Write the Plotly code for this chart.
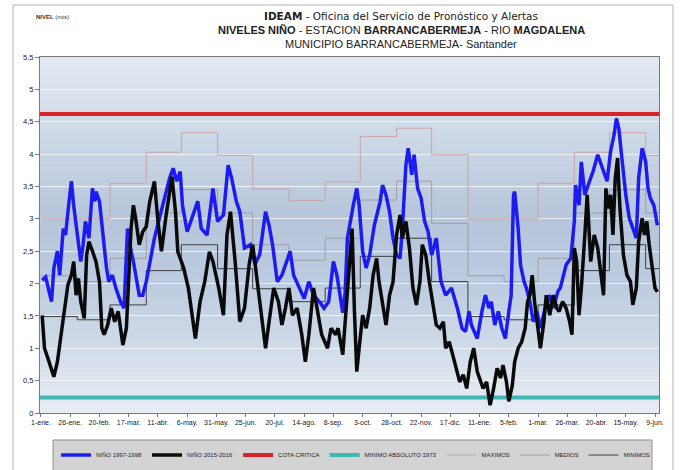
import plotly.graph_objects as go
import pandas as pd

# --- Niveles diarios (m) por día contado desde el 1 de enero del primer año ---
dias_1997 = [1, 4, 9, 11, 14, 16, 19, 21, 24, 26,
             28, 31, 34, 36, 38, 41, 44, 46, 47, 50,
             53, 56, 58, 61, 64, 68, 71, 74, 77, 79,
             84, 87, 90, 93, 97, 102, 106, 110, 113, 116,
             119, 121, 125, 127, 130, 134, 137, 142, 147, 151,
             156, 160, 163, 167, 170, 174, 179, 183, 187, 192,
             195, 198, 202, 206, 211, 213, 216, 221, 225, 229,
             233, 238, 242, 246, 250, 253, 258, 260, 262, 267,
             270, 272, 275, 278, 281, 285, 290, 292, 295, 298,
             301, 304, 307, 309, 312, 314, 317, 319, 322, 325,
             328, 331, 334, 338, 342, 346, 351, 356, 360, 363,
             366, 368, 373, 377, 380, 383, 385, 388, 391, 394,
             397, 400, 402, 404, 405, 408, 410, 413, 415, 418,
             421, 424, 427, 431, 435, 438, 442, 444, 449, 453,
             456, 457, 460, 462, 465, 469, 472, 476, 479, 481,
             484, 487, 490, 492, 494, 497, 500, 503, 506, 509,
             511, 514, 517, 519, 521, 524, 527]
nivel_1997 = [2.05, 2.10, 1.72, 2.24, 2.50, 2.13, 2.85, 2.75, 3.27, 3.58,
              3.20, 2.75, 2.34, 2.60, 2.96, 2.70, 3.47, 3.27, 3.42, 3.27,
              2.75, 2.24, 2.03, 2.13, 1.93, 1.72, 1.62, 2.85, 2.50, 2.34,
              1.82, 1.82, 2.03, 2.34, 2.70, 3.06, 3.37, 3.63, 3.78, 3.58,
              3.73, 3.21, 2.80, 2.90, 3.06, 3.27, 2.85, 2.75, 3.47, 2.96,
              3.06, 3.83, 3.63, 3.27, 3.11, 2.55, 2.60, 2.30, 2.45, 3.11,
              2.90, 2.60, 2.03, 2.13, 2.39, 2.50, 2.13, 1.93, 1.77, 2.03,
              1.82, 1.72, 1.62, 1.72, 2.34, 2.13, 1.55, 1.85, 2.70, 3.21,
              3.47, 3.21, 2.50, 2.24, 2.44, 2.90, 3.27, 3.52, 3.37, 3.11,
              2.70, 2.44, 2.39, 2.85, 3.83, 4.09, 3.68, 3.99, 3.47, 3.32,
              2.96, 2.80, 2.44, 2.70, 2.03, 1.82, 1.93, 1.62, 1.31, 1.26,
              1.57, 1.36, 1.15, 1.57, 1.82, 1.62, 1.72, 1.36, 1.57, 1.31,
              1.15, 1.57, 1.82, 3.37, 3.42, 2.85, 2.29, 2.03, 1.93, 1.72,
              1.41, 1.57, 1.31, 1.62, 1.82, 1.62, 1.88, 1.93, 2.29, 2.39,
              2.96, 3.52, 3.21, 3.88, 3.37, 3.58, 3.73, 3.99, 3.83, 3.73,
              3.58, 4.04, 4.30, 4.55, 4.40, 3.88, 3.37, 3.01, 2.85, 2.70,
              3.63, 4.09, 3.88, 3.47, 3.32, 3.21, 2.90]

dias_2015 = [1, 3, 6, 9, 11, 14, 17, 20, 23, 26,
             28, 30, 32, 34, 37, 39, 41, 44, 47, 50,
             52, 54, 57, 60, 63, 66, 68, 70, 73, 75,
             77, 79, 81, 84, 87, 90, 93, 97, 100, 103,
             107, 112, 115, 117, 122, 126, 130, 132, 136, 140,
             144, 147, 152, 156, 159, 162, 166, 170, 174, 178,
             181, 185, 189, 192, 195, 199, 203, 206, 209, 212,
             215, 219, 223, 226, 229, 233, 236, 240, 245, 248,
             252, 254, 258, 262, 265, 266, 268, 270, 272, 275,
             278, 281, 284, 287, 289, 292, 295, 298, 301, 304,
             307, 309, 312, 315, 318, 321, 324, 326, 329, 332,
             335, 338, 341, 344, 346, 349, 352, 355, 358, 361,
             364, 367, 370, 373, 375, 378, 381, 384, 387, 390,
             393, 395, 398, 400, 403, 405, 408, 411, 414, 416,
             418, 420, 422, 425, 427, 430, 432, 435, 438, 441,
             443, 446, 449, 452, 454, 456, 458, 460, 462, 465,
             467, 470, 473, 476, 479, 481, 483, 485, 487, 489,
             491, 493, 495, 498, 501, 504, 506, 509, 511, 514,
             516, 518, 520, 523, 525, 527]
nivel_2015 = [1.51, 1.00, 0.84, 0.69, 0.56, 0.79, 1.21, 1.57, 1.98, 2.13,
              2.34, 1.82, 2.08, 1.72, 1.46, 2.44, 2.65, 2.50, 2.34, 2.03,
              1.31, 1.21, 1.36, 1.62, 1.41, 1.57, 1.31, 1.05, 1.31, 2.13,
              2.85, 3.21, 3.00, 2.60, 2.80, 2.88, 3.27, 3.58, 2.96, 2.50,
              3.06, 3.65, 3.11, 2.49, 2.24, 1.93, 1.41, 1.15, 1.72, 2.03,
              2.49, 2.34, 1.93, 1.51, 2.75, 3.11, 2.34, 1.41, 1.62, 2.30,
              2.60, 2.03, 1.41, 1.00, 1.41, 1.93, 1.72, 1.36, 1.62, 1.93,
              1.51, 1.62, 1.21, 0.79, 1.21, 1.93, 1.62, 1.21, 1.00, 1.31,
              1.21, 1.31, 0.90, 1.82, 2.65, 2.85, 1.57, 0.64, 1.00, 1.51,
              1.31, 1.62, 2.13, 2.39, 2.03, 1.72, 1.36, 1.82, 2.03, 2.75,
              3.06, 2.70, 2.96, 2.55, 1.93, 1.67, 2.03, 2.60, 2.44, 2.03,
              1.72, 1.36, 1.31, 1.41, 1.00, 1.10, 0.90, 0.69, 0.48, 0.59,
              0.38, 0.79, 1.00, 0.64, 0.54, 0.38, 0.48, 0.12, 0.38, 0.69,
              0.54, 0.74, 0.48, 0.18, 0.43, 0.79, 1.00, 1.10, 1.31, 1.72,
              1.82, 2.13, 1.72, 1.31, 1.00, 1.41, 1.82, 1.51, 1.82, 1.62,
              1.57, 1.72, 1.62, 1.41, 1.21, 2.55, 2.34, 1.51, 1.93, 2.75,
              3.37, 2.34, 2.75, 2.55, 2.13, 1.82, 3.47, 3.16, 3.37, 2.75,
              3.63, 3.94, 3.16, 2.44, 2.13, 2.03, 1.67, 1.93, 2.65, 3.01,
              2.75, 2.96, 2.60, 2.24, 1.93, 1.87]

# --- Niveles de referencia ---
cota_critica = 4.62
minimo_absoluto_1973 = 0.24

# --- Estadísticos mensuales (ene ... dic) ---
maximos_mes = [3.00, 3.00, 3.55, 4.03, 4.33, 3.98, 3.46, 3.28, 3.57, 4.27, 4.40, 3.99]
medios_mes = [2.12, 2.03, 2.39, 3.09, 3.45, 3.09, 2.60, 2.36, 2.70, 3.29, 3.58, 2.93]
minimos_mes = [1.49, 1.44, 1.67, 2.20, 2.60, 2.23, 1.92, 1.72, 1.93, 2.42, 2.70, 2.03]

# --- Etiquetas del eje de fechas (cada 25 días) ---
etiquetas_fecha = ["1-ene.", "26-ene.", "20-feb.", "17-mar.", "11-abr.", "6-may.",
                   "31-may.", "25-jun.", "20-jul.", "14-ago.", "8-sep.", "3-oct.",
                   "28-oct.", "22-nov.", "17-dic.", "11-ene.", "5-feb.", "1-mar.",
                   "26-mar.", "20-abr.", "15-may.", "9-jun."]

inicio = pd.Timestamp("2015-01-01")
x_min, x_max = -0.85, 528.4

# Month boundaries (day offsets) for the stepped monthly statistics
inicios_mes = pd.date_range("2015-01-01", "2016-06-01", freq="MS")
x_mes = [(d - inicio).days for d in inicios_mes] + [x_max]
idx_mes = [d.month - 1 for d in inicios_mes]


def escalon(valores):
    ys = [valores[i] for i in idx_mes]
    return ys + [ys[-1]]


FONT = "Liberation Sans, Arial, sans-serif"
fig = go.Figure()

# Background gradient of the plot area (light at top and bottom, bluer in the middle)
paradas = [(0.0, (232, 237, 244)), (0.8, (214, 223, 235)), (2.0, (188, 203, 223)),
           (3.0, (182, 197, 218)), (4.3, (206, 217, 231)), (5.5, (226, 233, 241))]


def color_en(v):
    for (v0, c0), (v1, c1) in zip(paradas[:-1], paradas[1:]):
        if v0 <= v <= v1:
            t = (v - v0) / (v1 - v0)
            return "rgb(%d,%d,%d)" % tuple(round(a + (b - a) * t) for a, b in zip(c0, c1))
    return "rgb(%d,%d,%d)" % paradas[-1][1]


n_bandas = 70
paso = 5.5 / n_bandas
for i in range(n_bandas):
    y0 = paso * i
    y1 = min(5.5, y0 + paso * 1.8)   # overlapping bands avoid seams between them
    fig.add_shape(type="rect", xref="x", yref="y", x0=x_min, x1=x_max, y0=y0, y1=y1,
                  fillcolor=color_en(y0 + paso / 2), line_width=0, layer="below")

# Monthly statistics as step lines
fig.add_trace(go.Scatter(x=x_mes, y=escalon(maximos_mes), mode="lines", line_shape="hv",
                         line=dict(color="#c9a3a6", width=1), name="MAXIMOS", legendrank=5))
fig.add_trace(go.Scatter(x=x_mes, y=escalon(medios_mes), mode="lines", line_shape="hv",
                         line=dict(color="#9c9fa6", width=1), name="MEDIOS", legendrank=6))
fig.add_trace(go.Scatter(x=x_mes, y=escalon(minimos_mes), mode="lines", line_shape="hv",
                         line=dict(color="#3c3f44", width=1), name="MINIMOS", legendrank=7))

# Reference levels
fig.add_trace(go.Scatter(x=[x_min, x_max], y=[cota_critica, cota_critica], mode="lines",
                         line=dict(color="#d8232a", width=4), name="COTA CRITICA", legendrank=3))
fig.add_trace(go.Scatter(x=[x_min, x_max], y=[minimo_absoluto_1973, minimo_absoluto_1973],
                         mode="lines", line=dict(color="#3fb8b4", width=4),
                         name="MINIMO ABSOLUTO 1973", legendrank=4))

# El Niño episodes
fig.add_trace(go.Scatter(x=dias_1997, y=nivel_1997, mode="lines",
                         line=dict(color="#1c1cf0", width=3.5), name="NIÑO 1997-1998", legendrank=1))
fig.add_trace(go.Scatter(x=dias_2015, y=nivel_2015, mode="lines",
                         line=dict(color="#0a0a0a", width=3.5), name="NIÑO 2015-2016", legendrank=2))

# Pixel helpers for placing titles and frames
ancho_plot = 681 - 40 - 22
alto_plot = 470 - 57 - 57


def px_x(p):
    return (p - 40) / ancho_plot


def px_y(p):
    return (413 - p) / alto_plot


titulos = [
    ("<b>IDEAM</b> - Oficina del Servicio de Pronóstico y Alertas", 16, "DejaVu Sans, Verdana, sans-serif", 10.5),
    ("<b>NIVELES NIÑO</b> - ESTACION <b>BARRANCABERMEJA</b> - RIO <b>MAGDALENA</b>", 30, FONT, 11),
    ("MUNICIPIO BARRANCABERMEJA- Santander", 44, FONT, 11),
]
for texto, ypx, familia, tam in titulos:
    fig.add_annotation(text=texto, xref="paper", yref="paper", x=px_x(401), y=px_y(ypx),
                       xanchor="center", yanchor="middle", showarrow=False,
                       font=dict(family=familia, size=tam, color="#222222"))

fig.add_annotation(text="<b>NIVEL</b> (mts)", xref="paper", yref="paper", x=px_x(34), y=px_y(17),
                   xanchor="left", yanchor="middle", showarrow=False,
                   font=dict(family=FONT, size=6, color="#333333"))

# Outer frame of the chart
fig.add_shape(type="rect", xref="paper", yref="paper", x0=px_x(13), x1=px_x(673),
              y0=px_y(480), y1=px_y(5), line=dict(color="#b5b5b5", width=1),
              fillcolor="rgba(0,0,0,0)", layer="above")

# Legend panel
fig.add_shape(type="rect", xref="paper", yref="paper", x0=px_x(53), x1=px_x(652),
              y0=px_y(478), y1=px_y(440), line=dict(color="#8f8f8f", width=1),
              fillcolor="#d3d3d3", layer="above")

fig.update_layout(
    width=681, height=470,
    margin=dict(l=40, r=22, t=57, b=57, autoexpand=False),
    paper_bgcolor="white",
    plot_bgcolor="#d5dfea",
    separators=",.",
    font=dict(family=FONT, size=7, color="#222222"),
    showlegend=True,
    legend=dict(orientation="h", x=px_x(56), y=px_y(455), xanchor="left", yanchor="middle",
                bgcolor="rgba(0,0,0,0)", borderwidth=0,
                font=dict(family=FONT, size=6, color="#222222"),
                itemwidth=30, tracegroupgap=0),
    xaxis=dict(range=[x_min, x_max], tickmode="array",
               tickvals=[25 * i for i in range(len(etiquetas_fecha))],
               ticktext=etiquetas_fecha, tickangle=0,
               tickfont=dict(family=FONT, size=7, color="#222222"),
               showgrid=False, zeroline=False, showline=True, linecolor="#7a7a7a",
               linewidth=1, mirror=True, ticks="outside", ticklen=3, tickcolor="#7a7a7a"),
    yaxis=dict(range=[0, 5.5], dtick=0.5, tick0=0,
               tickfont=dict(family=FONT, size=7.5, color="#1a1a1a"),
               showgrid=True, gridcolor="rgba(245,248,252,0.85)", gridwidth=1,
               zeroline=False, showline=True, linecolor="#7a7a7a", linewidth=1, mirror=True,
               ticks="outside", ticklen=4, tickcolor="#7a7a7a"),
)

fig.write_html("out.html")
